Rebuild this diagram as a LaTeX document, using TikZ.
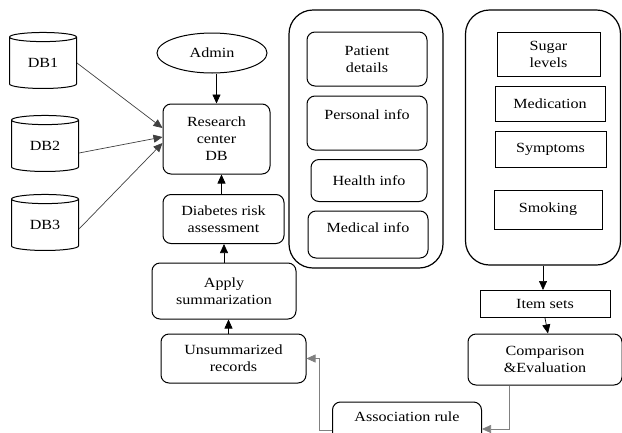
\documentclass[tikz,border=0pt]{standalone}
\usepackage{fontspec}
\setmainfont{Liberation Serif}[FakeStretch=1.15]
\usetikzlibrary{shapes.geometric,arrows.meta,positioning}

\tikzset{
  txt/.style={font=\fontsize{14}{17}\selectfont, align=center, inner sep=0pt},
  dbnode/.style={txt, shape=cylinder, shape border rotate=90, aspect=0.3,
    draw, line width=1pt, minimum width=67pt, minimum height=56pt},
  rbox/.style={txt, draw, line width=1pt, rounded corners=8pt},
  sbox/.style={txt, draw, line width=1pt},
  bigbox/.style={draw, line width=1.2pt, rounded corners=24pt, inner sep=0pt},
  flow/.style={-{Triangle[length=9pt,width=8pt]}, line width=0.7pt},
  grayflow/.style={flow, draw=gray},
}

\begin{document}
\begin{tikzpicture}[x=1pt,y=-1pt]
  \useasboundingbox (0,0) rectangle (622,432);

  % databases and admin
  \node[dbnode] (db1) at (43,63) {DB1};
  \node[dbnode] (db2) at (45,146) {DB2};
  \node[dbnode] (db3) at (45,225) {DB3};
  \node[txt, draw, line width=1pt, ellipse, minimum width=110pt, minimum height=40pt] (admin) at (212,53) {Admin};

  % left column
  \node[rbox, minimum width=107pt, minimum height=70pt] (rcdb) at (216.5,139) {Research\\center\\DB};
  \node[rbox, minimum width=121pt, minimum height=49pt] (risk) at (223.5,219) {Diabetes risk\\assessment};
  \node[rbox, minimum width=144pt, minimum height=56pt] (summ) at (224,291) {Apply\\summarization};
  \node[rbox, minimum width=145pt, minimum height=49pt] (unsumm) at (233.5,358.5) {Unsummarized\\records};
  \node[rbox, minimum width=149pt, minimum height=40pt] (assoc) at (407,422) {Association rule\\[-7pt]\mbox{}};

  % patient container
  \node[bigbox, minimum width=154pt, minimum height=258pt] (patbox) at (366,139) {};
  \node[rbox, minimum width=120pt, minimum height=54pt] (pdet) at (367,59) {Patient\\details};
  \node[rbox, minimum width=120pt, minimum height=54pt] (pers) at (367,123) {Personal info\\\mbox{}};
  \node[rbox, minimum width=116pt, minimum height=42pt] (health) at (369,180.5) {Health info};
  \node[rbox, minimum width=120pt, minimum height=47pt] (medi) at (368,234.5) {Medical info\\[-4pt]\mbox{}};

  % attribute container
  \node[bigbox, minimum width=155pt, minimum height=255pt] (attrbox) at (543,137.5) {};
  \node[sbox, minimum width=103pt, minimum height=44pt] (sugar) at (548.5,54) {Sugar\\levels};
  \node[sbox, minimum width=110pt, minimum height=35pt] (medic) at (550,104) {Medication};
  \node[sbox, minimum width=111pt, minimum height=36pt] (sympt) at (550.5,149) {Symptoms};
  \node[sbox, minimum width=108pt, minimum height=39pt] (smok) at (548,209.5) {Smoking};

  % mining
  \node[sbox, minimum width=130pt, minimum height=27pt] (items) at (545,304) {Item sets};
  \node[rbox, minimum width=154pt, minimum height=51pt] (comp) at (545,359.5) {Comparison\\\&Evaluation};

  % connectors
  \draw[flow, draw=black!75] (db1.east) -- ([yshift=11pt]rcdb.west);
  \draw[flow, draw=black!75] ([yshift=-7pt]db2.east) -- ([yshift=2pt]rcdb.west);
  \draw[flow, draw=black!75] ([yshift=-4pt]db3.east) -- ([yshift=-4pt]rcdb.west);
  \draw[flow] (rcdb.north |- admin.south) -- (rcdb.north);
  \draw[flow] ([xshift=-2pt]risk.north) -- ([xshift=-2pt]risk.north |- rcdb.south);
  \draw[flow] (summ.north) -- (summ.north |- risk.south);
  \draw[flow] ([xshift=-5pt]unsumm.north) -- ([xshift=-5pt]unsumm.north |- summ.south);
  \draw[flow] (attrbox.south) -- (attrbox.south |- items.north);
  \draw[flow] (items.south) -- ([xshift=3pt]comp.north);
  \draw[grayflow] ([xshift=-36pt]comp.south) |- ([yshift=-7pt]assoc.east);
  \draw[grayflow] ([yshift=-8pt]assoc.west) -- ++(-13,0) |- (unsumm.east);
\end{tikzpicture}
\end{document}
